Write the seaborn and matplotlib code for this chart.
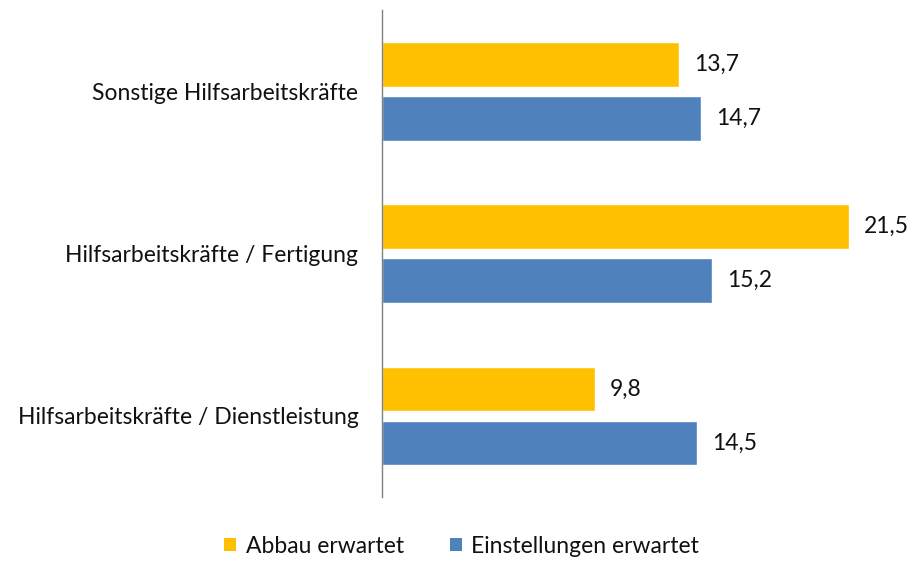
import matplotlib
matplotlib.use("Agg")
import matplotlib.pyplot as plt
import seaborn as sns
import pandas as pd
from matplotlib.patches import Patch

categories = ["Sonstige Hilfsarbeitskräfte", "Hilfsarbeitskräfte / Fertigung",
              "Hilfsarbeitskräfte / Dienstleistung"]
abbau = [13.7, 21.5, 9.8]
einstellungen = [14.7, 15.2, 14.5]
series = ["Abbau erwartet", "Einstellungen erwartet"]
colors = ["#FFC000", "#4F81BD"]

df = pd.DataFrame({
    "Kategorie": categories * 2,
    "Wert": abbau + einstellungen,
    "Serie": [series[0]] * 3 + [series[1]] * 3,
})

sns.set_style("white")
plt.rcParams["font.family"] = ["Lato", "DejaVu Sans"]

fig = plt.figure(figsize=(9.14, 5.63), dpi=100)
ax = fig.add_axes([0.418, 0.117, 0.565, 0.865])

sns.barplot(data=df, y="Kategorie", x="Wert", hue="Serie", palette=colors,
            saturation=1, orient="h", width=0.665, gap=0.17, ax=ax, legend=False)

for cont in ax.containers:
    ax.bar_label(cont, labels=[f"{v:.1f}".replace(".", ",") for v in cont.datavalues],
                 padding=11, fontsize=16.5, color="#111111")

ax.set_xlim(0, 23.8)
ax.set_ylim(2.5, -0.5)
ax.set_xlabel("")
ax.set_ylabel("")
ax.set_xticks([])
ax.tick_params(axis="y", length=0, pad=17, labelsize=16.5, labelcolor="#111111")
for s in ["top", "right", "bottom"]:
    ax.spines[s].set_visible(False)
ax.spines["left"].set_color("#808080")
ax.spines["left"].set_linewidth(1)

handles = [Patch(facecolor=c, edgecolor="none") for c in colors]
fig.legend(handles, series, loc="center", bbox_to_anchor=(0.505, 0.03), ncol=2,
           frameon=False, fontsize=16.5, handlelength=0.55, handleheight=0.55,
           handletextpad=0.4, columnspacing=2.0, labelcolor="#111111")

fig.savefig("out.png", dpi=100)
